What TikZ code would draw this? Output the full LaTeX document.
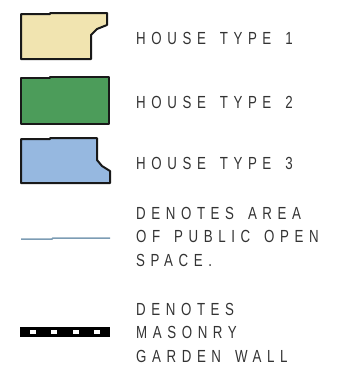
\documentclass[tikz,border=0pt]{standalone}
\usepackage{fontspec}
\setmainfont{Liberation Sans}[FakeStretch=0.76, LetterSpace=32, WordSpace=1.5]
\definecolor{typeone}{HTML}{F1E4B0}
\definecolor{typetwo}{HTML}{4C9C5A}
\definecolor{typethree}{HTML}{96B8E0}
\definecolor{openspace}{HTML}{7C9CB4}
\begin{document}
\begin{tikzpicture}[x=1pt, y=-1pt,
    house/.style={draw=black!90, line width=2pt, line join=round},
    legend/.style={inner sep=0pt, align=left, text=black!80, font=\fontsize{17.5}{23.5}\selectfont}]
    \useasboundingbox (0,0) rectangle (338,372);
    % house types
    \draw[house, fill=typeone] (21,14) -- (50,14) -- (50,13) -- (107,13) -- (107,25) -- (97,29) -- (91,35) -- (91,59) -- (21,59) -- cycle;
    \draw[house, fill=typetwo] (21,78) -- (50,78) -- (50,77) -- (109,77) -- (109,124) -- (21,124) -- cycle;
    \draw[house, fill=typethree] (21,139) -- (50,139) -- (50,138) -- (97,138) -- (97,160) -- (102,166) -- (110,171) -- (110,183) -- (21,183) -- cycle;
    % open space line
    \draw[openspace, line width=1.5pt] (21,239) -- (52,239) -- (53,238) -- (110,238);
    % garden wall
    \fill[black] (20,327) rectangle (110,337);
    \foreach \x in {33,54,76,97} \fill[white] (\x-3,330) rectangle (\x+3,334);
    % labels
    \node[legend, anchor=west] (typeone) at (136,38) {HOUSE TYPE 1};
    \node[legend, anchor=west] (typetwo) at (136,102) {HOUSE TYPE 2};
    \node[legend, anchor=west] (typethree) at (136,163) {HOUSE TYPE 3};
    \node[legend, anchor=north west] (open) at (136,207) {DENOTES AREA\\OF PUBLIC OPEN\\SPACE.};
    \node[legend, anchor=north west] (wall) at (136,303) {DENOTES\\MASONRY\\GARDEN WALL};
\end{tikzpicture}
\end{document}
